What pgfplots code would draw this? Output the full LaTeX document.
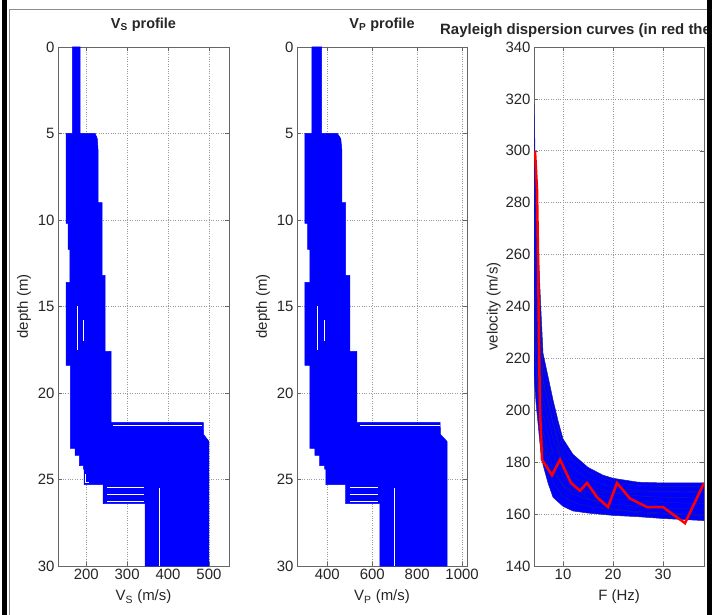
\documentclass[border=0pt]{standalone}
\usepackage{fontspec}
\setmainfont{Liberation Sans}
\usepackage{pgfplots}
\pgfplotsset{compat=1.18}
\definecolor{navyc}{RGB}{30,30,150}
\begin{document}
\begin{tikzpicture}[x=1bp,y=1bp]
\useasboundingbox (0,0) rectangle (722,615);
\fill[white] (0,0) rectangle (722,615);
\draw[black!45, line width=0.8bp] (9.5,0) -- (9.5,605.5) -- (708,605.5);
\fill[black] (2,0) rectangle (6.5,615);
\pgfplotsset{
  mat/.style={
    scale only axis, anchor=south west,
    width=171bp, height=519bp,
    axis line style={black!60},
    tick align=inside, major tick length=4bp,
    tick style={black!60, line width=0.5bp},
    grid=major, major grid style={black!40, dotted, line width=0.6bp},
    tick label style={font=\fontsize{15}{15}\selectfont, text=black!85},
    label style={font=\fontsize{15}{15}\selectfont, text=black!85},
    xlabel style={yshift=-3bp},
    ylabel style={yshift=0bp},
    title style={font=\bfseries\fontsize{14.5}{14.5}\selectfont, text=black!85, at={(0.5,1)}, anchor=base, yshift=13bp, inner sep=0pt},
    /pgf/number format/assume math mode=true,
    /pgf/number format/1000 sep={},
  }
}
% ---------------- Vs profile
\begin{axis}[mat, at={(58bp,49bp)}, xmin=131, xmax=549, ymin=0, ymax=30, y dir=reverse,
  xtick={200,300,400,500}, ytick={0,5,...,30},
  xlabel={V\textsubscript{S} (m/s)}, ylabel={depth (m)}, title={V\textsubscript{S} profile}]
\addplot[fill=blue, draw=blue, line width=0.5bp] coordinates {(166,0) (185,0) (185,5) (222,5) (227,5.3) (229,6) (229,9) (239,9) (239,13.2) (246,13.2) (246,17.6) (261,17.6) (261,21.7) (486,21.7) (487,22.4) (500,22.8) (500,30) (344,30) (344,26.4) (241,26.4) (241,25.3) (195,25.3) (195,24.4) (193,24.4) (193,24.2) (183,24.2) (183,23.6) (173,23.6) (173,23.2) (161,23.2) (161,18.4) (151,18.4) (151,13.6) (160,13.6) (160,11.7) (156,11.7) (156,10.2) (151,10.2) (151,5) (166,5) (166,0)};
\addplot[white, line width=1bp] coordinates {(265,21.9) (484,21.9)};
\addplot[white, line width=1bp] coordinates {(251,25.45) (342,25.45)};
\addplot[white, line width=1bp] coordinates {(251,25.85) (342,25.85)};
\addplot[white, line width=1bp] coordinates {(251,26.25) (342,26.25)};
\addplot[white, line width=0.8bp] coordinates {(378,25.5) (378,30)};
\addplot[white, line width=0.8bp] coordinates {(178,15) (178,17.5)};
\addplot[white, line width=0.8bp] coordinates {(193,15.8) (193,17)};
\addplot[white, line width=0.8bp] coordinates {(199,24.7) (199,25.15) (207,25.15)};
\end{axis}
% ---------------- Vp profile
\begin{axis}[mat, at={(297bp,49bp)}, width=170bp, xmin=265, xmax=1022, ymin=0, ymax=30, y dir=reverse,
  xtick={400,600,800,1000}, ytick={0,5,...,30},
  xlabel={V\textsubscript{P} (m/s)}, ylabel={depth (m)}, title={V\textsubscript{P} profile}]
\addplot[fill=blue, draw=blue, line width=0.5bp] coordinates {(331,0) (375,0) (375,5) (445,5) (460,5.3) (465,6) (465,9) (482,9) (482,13.2) (500,13.2) (500,17.6) (532,17.6) (532,21.7) (902,21.7) (904,22.4) (933,22.8) (933,30) (634,30) (634,26.4) (482,26.4) (482,25.3) (393,25.3) (393,24.4) (388,24.4) (388,24.2) (366,24.2) (366,23.6) (344,23.6) (344,23.2) (322,23.2) (322,18.4) (300,18.4) (300,13.6) (322,13.6) (322,11.7) (312,11.7) (312,10.2) (300,10.2) (300,5) (331,5) (331,0)};
\addplot[white, line width=1bp] coordinates {(545,21.9) (900,21.9)};
\addplot[white, line width=1bp] coordinates {(500,25.45) (625,25.45)};
\addplot[white, line width=1bp] coordinates {(500,25.85) (625,25.85)};
\addplot[white, line width=1bp] coordinates {(500,26.25) (625,26.25)};
\addplot[white, line width=0.8bp] coordinates {(697,25.5) (697,30)};
\addplot[white, line width=0.8bp] coordinates {(355,15) (355,17.5)};
\addplot[white, line width=0.8bp] coordinates {(385,15.8) (385,17)};
\end{axis}
% ---------------- dispersion curves
\begin{axis}[mat, at={(534bp,49bp)}, width=170bp, xmin=4.2, xmax=38.2, ymin=140, ymax=340,
  xtick={10,20,30}, ytick={140,160,...,340},
  xlabel={F (Hz)}, ylabel={velocity (m/s)}, ylabel style={yshift=-2bp}]
\addplot[fill=blue, draw=navyc, line width=0.5bp] coordinates {(4.2,318) (4.4,300) (4.6,285) (5,265) (5.5,242) (6,222) (7,213) (8,204) (9,196) (10,189) (12,183) (15,178) (18,175) (20,173.8) (25,172.3) (30,172) (38.2,172) (38.2,157.5) (30,158.3) (25,159) (20,159.5) (15,160.4) (12,161.2) (10,163) (8,166.5) (7,172) (6,179) (5.5,185) (5,195) (4.6,203) (4.2,214)};
\addplot[navyc, line width=0.4bp] coordinates {(4.2,229.6) (4.6,215.3) (5,205.5) (5.5,193.6) (6,185.5) (7,178.2) (8,172.1) (10,166.9) (12,164.5) (15,163.0) (20,161.6) (25,161.0) (30,160.4) (38.2,159.7)};
\addplot[navyc, line width=0.4bp] coordinates {(4.2,245.2) (4.6,227.6) (5,216.0) (5.5,202.1) (6,191.9) (7,184.3) (8,177.8) (10,170.8) (12,167.7) (15,165.7) (20,163.8) (25,163.0) (30,162.4) (38.2,161.9)};
\addplot[navyc, line width=0.4bp] coordinates {(4.2,260.8) (4.6,239.9) (5,226.5) (5.5,210.7) (6,198.4) (7,190.5) (8,183.4) (10,174.7) (12,171.0) (15,168.3) (20,165.9) (25,165.0) (30,164.5) (38.2,164.0)};
\addplot[navyc, line width=0.4bp] coordinates {(4.2,276.4) (4.6,252.2) (5,237.0) (5.5,219.2) (6,204.8) (7,196.6) (8,189.0) (10,178.6) (12,174.3) (15,171.0) (20,168.1) (25,167.0) (30,166.5) (38.2,166.2)};
\addplot[navyc, line width=0.4bp] coordinates {(4.2,292.0) (4.6,264.5) (5,247.5) (5.5,227.8) (6,211.3) (7,202.8) (8,194.6) (10,182.5) (12,177.6) (15,173.6) (20,170.2) (25,169.0) (30,168.6) (38.2,168.4)};
\addplot[navyc, line width=0.4bp] coordinates {(4.2,307.6) (4.6,276.8) (5,258.0) (5.5,236.3) (6,217.7) (7,208.9) (8,200.3) (10,186.4) (12,180.8) (15,176.2) (20,172.4) (25,171.0) (30,170.6) (38.2,170.6)};
\addplot[navyc, line width=0.4bp] coordinates {(4.2,235) (4.6,219) (5,209) (5.5,196) (6,188) (7,181) (8,176) (10,171) (12,169) (15,168.5) (20,168.4) (25,168.5) (30,168.6) (38.2,168.8)};
\addplot[navyc, line width=0.4bp] coordinates {(4.2,300) (4.6,270) (5,252) (5.5,231) (6,212) (7,204) (8,195) (10,178) (12,171) (15,166) (20,162) (25,160.5) (30,160) (38.2,159.5)};
\addplot[red, line width=2.5bp] coordinates {(4.4,300) (4.8,285) (5.0,260) (5.2,225) (5.4,200) (5.8,181) (7.8,175) (9.4,181) (11.6,172) (13.4,169) (14.8,172) (16.8,166.5) (19,162.7) (20.8,172) (23.4,166) (26.8,162.7) (30,162.7) (34.4,156.5) (38.2,172)};
\end{axis}
\node[anchor=base west, inner sep=0pt, font=\bfseries\fontsize{15}{15}\selectfont, text=black!85] at (440,580) {Rayleigh dispersion curves (in red the};
\fill[black] (707,0) rectangle (712,615);
\fill[white] (712,0) rectangle (722,615);
\end{tikzpicture}
\end{document}
